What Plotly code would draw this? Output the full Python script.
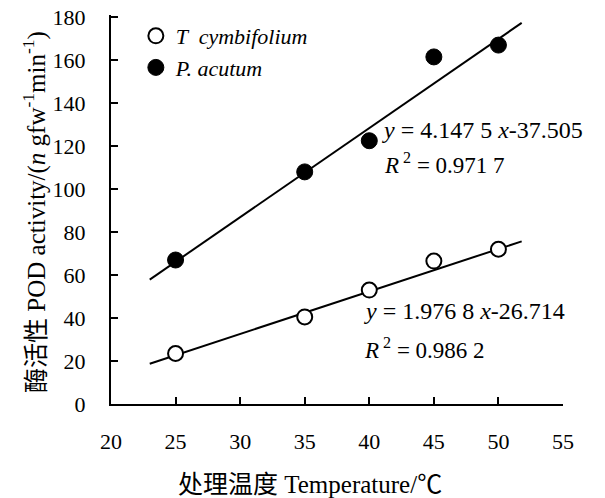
import plotly.graph_objects as go

temps = [25, 35, 40, 45, 50]
t_cymb = [23.5, 40.5, 53, 66.5, 72]
p_acut = [67, 108, 122.5, 161.5, 167]

fit_x = [23, 51.8]
fit_p = (4.1475, -37.505)
fit_t = (1.9768, -26.714)

x_ticks = [20, 25, 30, 35, 40, 45, 50, 55]
y_ticks = [0, 20, 40, 60, 80, 100, 120, 140, 160, 180]

x_title = "处理温度 Temperature/℃"
y_title = "酶活性 POD activity/(<i>n</i> gfw<sup>-1</sup>min<sup>-1</sup>)"

FONT = "Liberation Serif, Noto Sans CJK SC"

fig = go.Figure()
fig.add_trace(go.Scatter(x=fit_x, y=[fit_p[0] * v + fit_p[1] for v in fit_x], mode="lines",
                         line=dict(color="black", width=2), showlegend=False, hoverinfo="skip"))
fig.add_trace(go.Scatter(x=fit_x, y=[fit_t[0] * v + fit_t[1] for v in fit_x], mode="lines",
                         line=dict(color="black", width=2), showlegend=False, hoverinfo="skip"))
fig.add_trace(go.Scatter(x=temps, y=t_cymb, mode="markers", name="<i>T  cymbifolium</i>",
                         marker=dict(symbol="circle", size=15, color="white",
                                     line=dict(color="black", width=2))))
fig.add_trace(go.Scatter(x=temps, y=p_acut, mode="markers", name="<i>P. acutum</i>",
                         marker=dict(symbol="circle", size=16, color="black",
                                     line=dict(color="black", width=1))))

eq_font = dict(family=FONT, size=24, color="black")
r_font = dict(family=FONT, size=23, color="black")
fig.add_annotation(x=40.85, y=127.5, text="<i>y</i> = 4.147 5 <i>x</i>-37.505", showarrow=False,
                   xanchor="left", yanchor="middle", font=eq_font)
fig.add_annotation(x=41.0, y=112, text="<i>R</i><sup> 2</sup> = 0.971 7", showarrow=False,
                   xanchor="left", yanchor="middle", font=r_font)
fig.add_annotation(x=39.4, y=43.5, text="<i>y</i> = 1.976 8 <i>x</i>-26.714", showarrow=False,
                   xanchor="left", yanchor="middle", font=eq_font)
fig.add_annotation(x=39.4, y=25.8, text="<i>R</i><sup> 2</sup> = 0.986 2", showarrow=False,
                   xanchor="left", yanchor="middle", font=r_font)
fig.add_annotation(x=0.44, y=-0.208, xref="paper", yref="paper", text=x_title, showarrow=False,
                   xanchor="center", yanchor="middle", font=dict(family=FONT, size=25, color="black"))
fig.add_annotation(x=-0.168, y=0.494, xref="paper", yref="paper", text=y_title, showarrow=False,
                   textangle=-90, xanchor="center", yanchor="middle",
                   font=dict(family=FONT, size=25, color="black"))

fig.update_layout(
    width=605, height=498,
    margin=dict(l=103, r=50, t=7, b=102),
    plot_bgcolor="white", paper_bgcolor="white",
    font=dict(family=FONT, size=22, color="black"),
    legend=dict(x=0.055, y=1.0, xanchor="left", yanchor="top", bgcolor="rgba(0,0,0,0)",
                font=dict(size=22), tracegroupgap=0),
    xaxis=dict(range=[20, 55], tickvals=x_ticks, ticks="inside", ticklen=7, tickwidth=2,
               tickcolor="black", showline=True, linecolor="black", linewidth=2,
               showgrid=False, zeroline=False, ticklabelstandoff=17, automargin=False),
    yaxis=dict(range=[0, 181], tickvals=y_ticks, ticks="inside", ticklen=7, tickwidth=2,
               tickcolor="black", showline=True, linecolor="black", linewidth=2,
               showgrid=False, zeroline=False, ticklabelstandoff=19, automargin=False,
               ticklabeloverflow="allow"),
)

fig.write_html("out.html")
